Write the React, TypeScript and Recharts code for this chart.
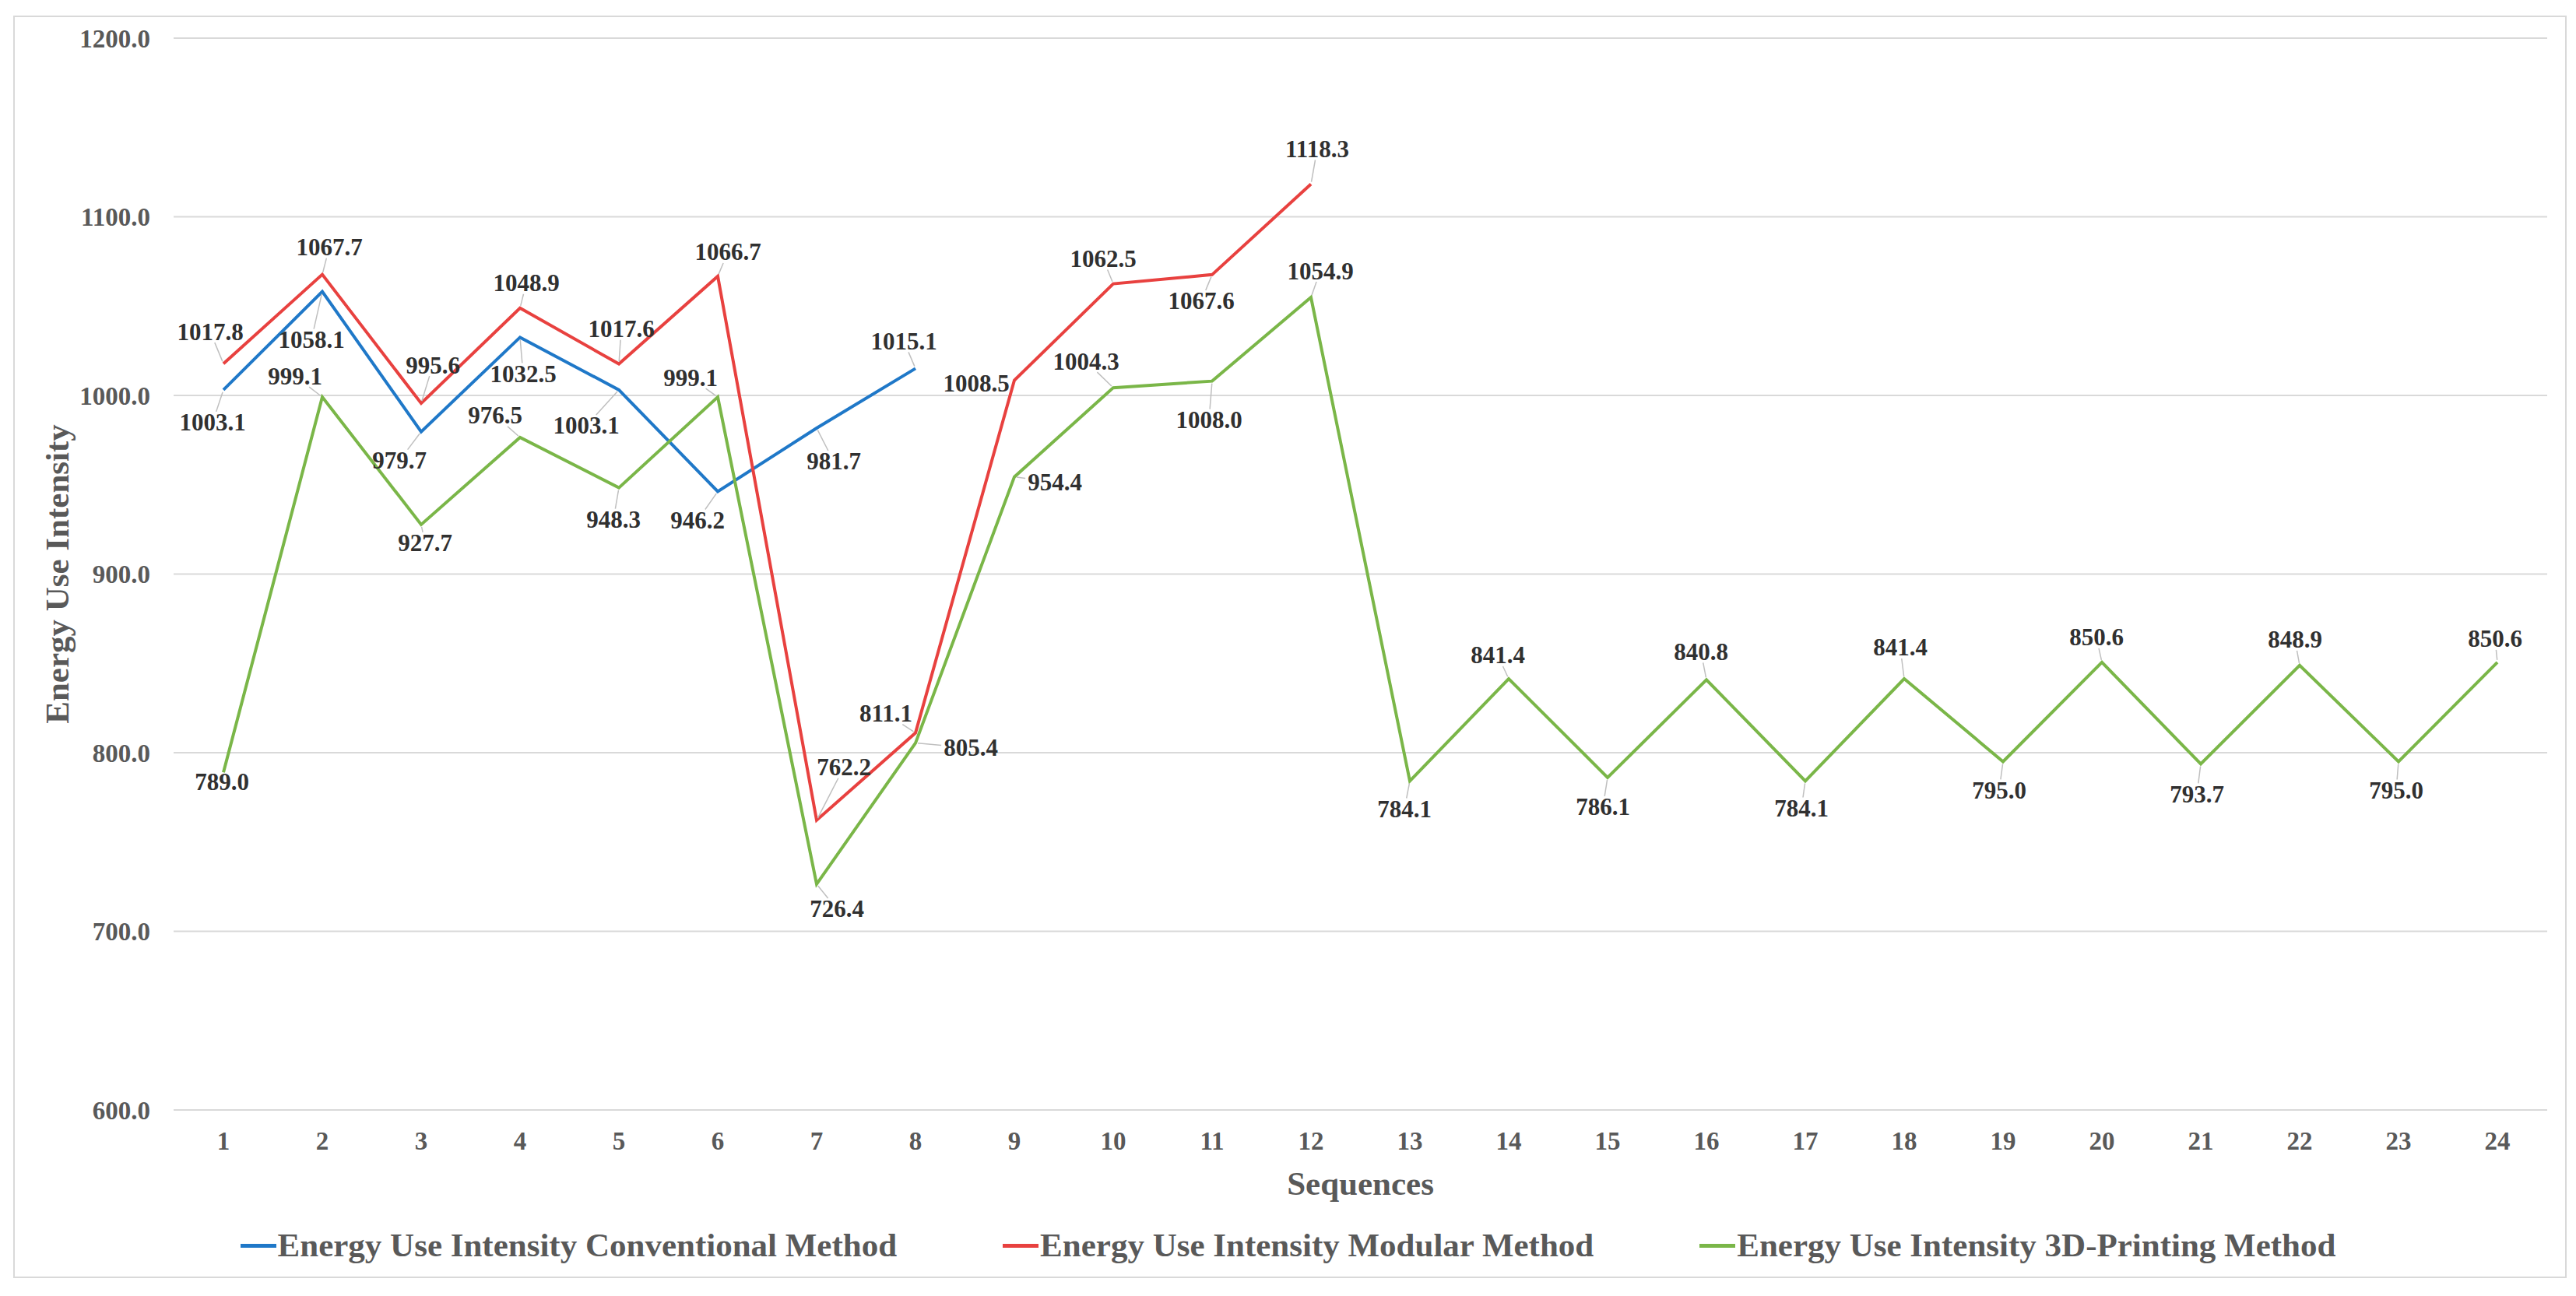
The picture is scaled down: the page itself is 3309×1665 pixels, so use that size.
import React from 'react';
import {
  LineChart,
  Line,
  XAxis,
  YAxis,
  CartesianGrid,
  LabelList,
  Label,
} from 'recharts';

const sequences = [
  1, 2, 3, 4, 5, 6, 7, 8, 9, 10, 11, 12, 13, 14, 15, 16, 17, 18, 19, 20, 21, 22, 23, 24,
];

const conventional = [1003.1, 1058.1, 979.7, 1032.5, 1003.1, 946.2, 981.7, 1015.1];

const modular = [
  1017.8, 1067.7, 995.6, 1048.9, 1017.6, 1066.7, 762.2, 811.1, 1008.5, 1062.5, 1067.6, 1118.3,
];

const printing = [
  789.0, 999.1, 927.7, 976.5, 948.3, 999.1, 726.4, 805.4, 954.4, 1004.3, 1008.0, 1054.9,
  784.1, 841.4, 786.1, 840.8, 784.1, 841.4, 795.0, 850.6, 793.7, 848.9, 795.0, 850.6,
];

const yTicks = [600, 700, 800, 900, 1000, 1100, 1200];

// where each data label sits relative to its point (dx, dy in px)
const convLabelPos = [
  [-14, 42], [-14, 62], [-28, 37], [4, 47], [-42, 46], [-26, 37], [22, 43], [-15, -35],
];
const modLabelPos = [
  [-17, -41], [9, -35], [15, -49], [8, -32], [3, -45], [13, -31], [35, -68], [-38, -25],
  [-49, 4], [-13, -32], [-14, 34], [8, -45],
];
const printLabelPos = [
  [-2, 12], [-35, -27], [5, 24], [-32, -28], [-7, 41], [-35, -25], [26, 32], [71, 6],
  [52, 7], [-35, -34], [-4, 50], [12, -34], [-7, 36], [-14, -30], [-6, 38], [-7, -36],
  [-5, 35], [-5, -40], [-5, 37], [-7, -32], [-5, 39], [-6, -33], [-3, 37], [-3, -30],
];

const FONT = '"Liberation Serif", "Times New Roman", serif';
const AXIS_COLOR = '#595959';

const series = [
  { key: 'conventional', name: 'Energy Use Intensity Conventional Method', color: '#1f78c8', pos: convLabelPos },
  { key: 'modular', name: 'Energy Use Intensity Modular Method', color: '#e8413f', pos: modLabelPos },
  { key: 'printing', name: 'Energy Use Intensity 3D-Printing Method', color: '#7ab648', pos: printLabelPos },
];

const data = sequences.map((s, i) => ({
  seq: s,
  conventional: conventional[i] ?? null,
  modular: modular[i] ?? null,
  printing: printing[i] ?? null,
}));

const makeLabel = (pos: number[][]) => (props: any) => {
  const { value, index } = props;
  if (value == null) return null;
  const px = props.x ?? props.viewBox?.x;
  const py = props.y ?? props.viewBox?.y;
  if (px == null || py == null) return null;
  const [dx, dy] = pos[index] || [0, -30];
  const text = Number(value).toFixed(1);
  const fs = 31;
  const hw = ((text.length - 1) * 0.5 + 0.25) * fs * 0.5 + 3;
  const hh = 14;
  const lx = px + dx;
  const ly = py + dy;
  // leader line from point to edge of label box
  const vx = px - lx;
  const vy = py - ly;
  const tBox = Math.min(
    vx !== 0 ? hw / Math.abs(vx) : Infinity,
    vy !== 0 ? hh / Math.abs(vy) : Infinity
  );
  const len = Math.sqrt(vx * vx + vy * vy);
  let leader = null;
  if (tBox < 1 && len * (1 - tBox) > 8) {
    const ex = lx + vx * tBox;
    const ey = ly + vy * tBox;
    const sx = px - (vx / len) * 3;
    const sy = py - (vy / len) * 3;
    leader = <line x1={sx} y1={sy} x2={ex} y2={ey} stroke="#bfbfbf" strokeWidth={1.5} />;
  }
  return (
    <g>
      {leader}
      <text
        x={lx}
        y={ly}
        textAnchor="middle"
        dominantBaseline="central"
        fontFamily={FONT}
        fontWeight="bold"
        fontSize={fs}
        fill="#303030"
      >
        {text}
      </text>
    </g>
  );
};

const YTitle = (props: any) => {
  const vb = props.viewBox || {};
  const cx = (vb.x ?? 0) + 73;
  const cy = (vb.y ?? 0) + (vb.height ?? 0) / 2;
  return (
    <text
      x={cx}
      y={cy}
      transform={`rotate(-90, ${cx}, ${cy})`}
      textAnchor="middle"
      dominantBaseline="central"
      fontFamily={FONT}
      fontWeight="bold"
      fontSize={43}
      fill={AXIS_COLOR}
    >
      Energy Use Intensity
    </text>
  );
};

const XTitle = (props: any) => {
  const vb = props.viewBox || {};
  const cx = (vb.x ?? 0) + (vb.width ?? 0) / 2;
  return (
    <text
      x={cx}
      y={(vb.y ?? 0) + 109}
      textAnchor="middle"
      fontFamily={FONT}
      fontWeight="bold"
      fontSize={43}
      fill={AXIS_COLOR}
    >
      Sequences
    </text>
  );
};

const tickStyle = { fill: AXIS_COLOR, fontSize: 33, fontWeight: 'bold' as const, fontFamily: FONT };

const App: React.FC = () => {
  return (
    <div style={{ position: 'relative', width: 3309, height: 1665, margin: '-8px 0 0 -8px', background: '#fff' }}>
      <div
        style={{
          position: 'absolute',
          left: 17,
          top: 20,
          width: 3276,
          height: 1618,
          border: '2px solid #d9d9d9',
        }}
      />
      <div style={{ position: 'absolute', left: 0, top: 0 }}>
        <LineChart
          width={3309}
          height={1665}
          data={data}
          margin={{ top: 49, right: 37, bottom: 179, left: 0 }}
        >
          <CartesianGrid vertical={false} stroke="#d9d9d9" strokeWidth={2} />
          <XAxis
            dataKey="seq"
            type="category"
            interval={0}
            height={60}
            padding={{ left: 64, right: 64 }}
            axisLine={false}
            tickLine={false}
            tickSize={0}
            tickMargin={28}
            tick={tickStyle}
          >
            <Label content={XTitle} />
          </XAxis>
          <YAxis
            domain={[600, 1200]}
            ticks={yTicks}
            interval={0}
            width={223}
            axisLine={false}
            tickLine={false}
            tickSize={0}
            tickMargin={30}
            tickFormatter={(v: number) => v.toFixed(1)}
            tick={tickStyle}
          >
            <Label content={YTitle} />
          </YAxis>
          {series.map((s) => (
            <Line
              key={s.key}
              type="linear"
              dataKey={s.key}
              name={s.name}
              stroke={s.color}
              strokeWidth={4}
              dot={false}
              activeDot={false}
              isAnimationActive={false}
            >
              <LabelList dataKey={s.key} content={makeLabel(s.pos)} />
            </Line>
          ))}
        </LineChart>
      </div>
      <div
        style={{
          position: 'absolute',
          left: 0,
          top: 1572,
          width: 3309,
          display: 'flex',
          justifyContent: 'center',
          gap: 136,
          fontFamily: FONT,
          fontWeight: 'bold',
          fontSize: 43,
          color: AXIS_COLOR,
          lineHeight: '56px',
        }}
      >
        {series.map((s) => (
          <div key={s.key} style={{ display: 'flex', alignItems: 'center' }}>
            <span style={{ display: 'inline-block', width: 46, height: 5, background: s.color, marginRight: 2 }} />
            <span>{s.name}</span>
          </div>
        ))}
      </div>
    </div>
  );
};

export default App;
